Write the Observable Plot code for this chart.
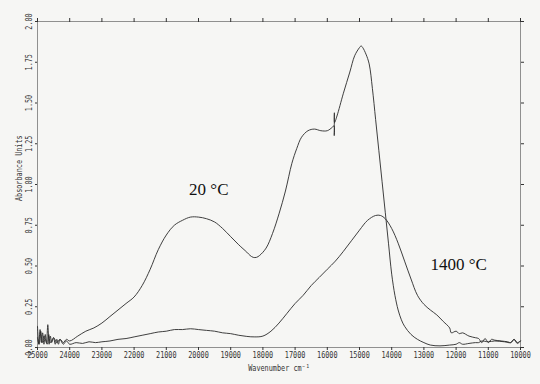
<!DOCTYPE html>
<html>
<head>
<meta charset="utf-8">
<script src="https://cdn.jsdelivr.net/npm/d3@7"></script>
<script src="https://cdn.jsdelivr.net/npm/@observablehq/plot@0.6"></script>
<style>
  html, body { margin: 0; padding: 0; background: #f6f6f4; }
  #chart svg { display: block; }
</style>
</head>
<body>
<div id="chart"></div>
<script>
// Spectrum at 20 °C: wavenumber (cm-1) and absorbance
const wave20 = [25000,24950,24900,24850,24800,24700,24650,24600,24500,24400,24300,24200,24100,24000,
  23750,23500,23250,23000,22750,22500,22250,22000,21750,21500,21250,21000,20750,20500,20250,20000,
  19750,19500,19250,19000,18750,18500,18400,18300,18200,18100,17900,17700,17500,17300,17100,16950,16800,16600,
  16400,16200,16000,15850,15790,15785,15780,15775,15700,15500,15300,15150,15000,14950,14900,14800,
  14700,14600,14500,14400,14300,14200,14100,14000,13900,13800,13700,13600,13400,13200,13000,12800,
  12500,12200,12000,11900,11800,11600,11400,11300,11200,11000,10800,10500,10300,10200,10100,10000];
const abs20 = [0.06,0.02,0.10,0.03,0.07,0.02,0.08,0.03,0.06,0.03,0.05,0.03,0.05,0.04,
  0.07,0.10,0.12,0.15,0.19,0.23,0.27,0.31,0.38,0.48,0.60,0.69,0.75,0.78,0.80,0.80,
  0.79,0.77,0.73,0.68,0.63,0.585,0.565,0.553,0.553,0.565,0.61,0.70,0.82,0.96,1.13,1.22,1.29,1.33,
  1.34,1.33,1.33,1.35,1.36,1.30,1.44,1.38,1.42,1.56,1.69,1.79,1.84,1.85,1.84,1.80,
  1.74,1.59,1.40,1.21,1.02,0.83,0.64,0.45,0.32,0.23,0.17,0.13,0.08,0.05,0.03,0.015,
  0.01,0.015,0.02,0.03,0.02,0.025,0.03,0.03,0.04,0.035,0.04,0.035,0.03,0.05,0.03,0.04];

// Spectrum at 1400 °C
const wave1400 = [25000,24960,24920,24880,24840,24800,24760,24720,24680,24640,24600,24560,24500,24450,
  24400,24350,24300,24200,24100,24000,23800,23600,23400,23200,23000,22750,22500,22250,22000,21750,
  21500,21250,21000,20750,20500,20250,20000,19750,19500,19250,19000,18750,18500,18250,18000,17750,
  17500,17250,17000,16750,16500,16250,16000,15750,15500,15250,15000,14750,14500,14350,14200,14000,
  13800,13600,13400,13200,13000,12800,12600,12400,12200,12150,12000,11900,11800,11600,11400,11300,
  11200,11100,11000,10900,10800,10600,10400,10300,10200,10100,10000];
const abs1400 = [0.13,0.02,0.11,0.03,0.09,0.02,0.08,0.03,0.14,0.02,0.07,0.03,0.06,0.02,
  0.05,0.02,0.05,0.02,0.04,0.02,0.03,0.025,0.035,0.03,0.035,0.04,0.05,0.055,0.065,0.075,
  0.085,0.095,0.10,0.11,0.11,0.115,0.11,0.105,0.10,0.09,0.085,0.075,0.068,0.065,0.07,0.10,
  0.15,0.21,0.27,0.32,0.38,0.43,0.48,0.53,0.59,0.655,0.72,0.78,0.81,0.81,0.79,0.73,
  0.64,0.53,0.42,0.32,0.265,0.23,0.20,0.16,0.12,0.09,0.10,0.085,0.09,0.07,0.06,0.055,
  0.03,0.055,0.03,0.05,0.045,0.04,0.035,0.03,0.05,0.025,0.04];

const xTicks = d3.range(25000, 9999, -1000);
const yTicks = [0, 0.25, 0.5, 0.75, 1.0, 1.25, 1.5, 1.75, 2.0];
const labels = ["20 °C", "1400 °C"];
const labelWave = [19680, 11920];
const labelAbs = [0.97, 0.51];

const s20 = wave20.map((w, i) => ({w, a: abs20[i]}));
const s1400 = wave1400.map((w, i) => ({w, a: abs1400[i]}));
const ann = labels.map((t, i) => ({t, w: labelWave[i], a: labelAbs[i]}));

const mono = "DejaVu Sans Mono";
const ink = "#2a2a2a";
const txt = "#333";

const chart = Plot.plot({
  width: 540,
  height: 384,
  marginLeft: 37,
  marginRight: 20,
  marginTop: 21,
  marginBottom: 37,
  style: {background: "#f6f6f4", fontFamily: mono, fontSize: "9.5px", color: txt},
  x: {domain: [25000, 10000]},
  y: {domain: [0, 2]},
  marks: [
    Plot.frame({stroke: "#777", strokeWidth: 0.8}),
    Plot.axisX({anchor: "bottom", ticks: xTicks, tickSize: 3, tickPadding: 1,
      tickFormat: d3.format("d"), label: null, fill: txt}),
    Plot.axisX({anchor: "top", ticks: xTicks, tickSize: 4, tickFormat: () => "", label: null}),
    Plot.axisY({anchor: "right", ticks: yTicks, tickSize: 3, tickFormat: () => "", label: null}),
    Plot.axisY({anchor: "left", ticks: yTicks, tickSize: 2, tickFormat: () => "", label: null}),
    Plot.text(yTicks, {x: 25000, y: d => d, text: d => d3.format(".2f")(d), rotate: -90,
      dx: -9, textAnchor: "middle", fontFamily: mono, fontSize: 9.5, fill: txt}),
    Plot.text(["Absorbance Units"], {x: 25000, y: 1.10, text: d => d, rotate: -90, dx: -19,
      textAnchor: "middle", fontFamily: mono, fontSize: 9.5, fill: txt}),
    Plot.text(["Wavenumber cm⁻¹"], {frameAnchor: "bottom", text: d => d, dy: 23,
      fontFamily: mono, fontSize: 9.5, fill: txt}),
    Plot.line(s20, {x: "w", y: "a", stroke: ink, strokeWidth: 0.9, curve: "catmull-rom"}),
    Plot.line(s1400, {x: "w", y: "a", stroke: ink, strokeWidth: 0.9, curve: "catmull-rom"}),
    Plot.text(ann, {x: "w", y: "a", text: "t", fontFamily: "Liberation Serif", fontSize: 17,
      fill: "#111", textAnchor: "middle"})
  ]
});

// condense the monospace texts horizontally like the plotter font
chart.querySelectorAll("text").forEach(t => {
  const ff = t.getAttribute("font-family") || t.closest("[font-family]")?.getAttribute("font-family") || "";
  if (ff.includes("Serif")) return;
  const tr = t.getAttribute("transform") || "";
  t.setAttribute("transform", (tr + " scale(0.72,1)").trim());
});

document.getElementById("chart").append(chart);
</script>
</body>
</html>
